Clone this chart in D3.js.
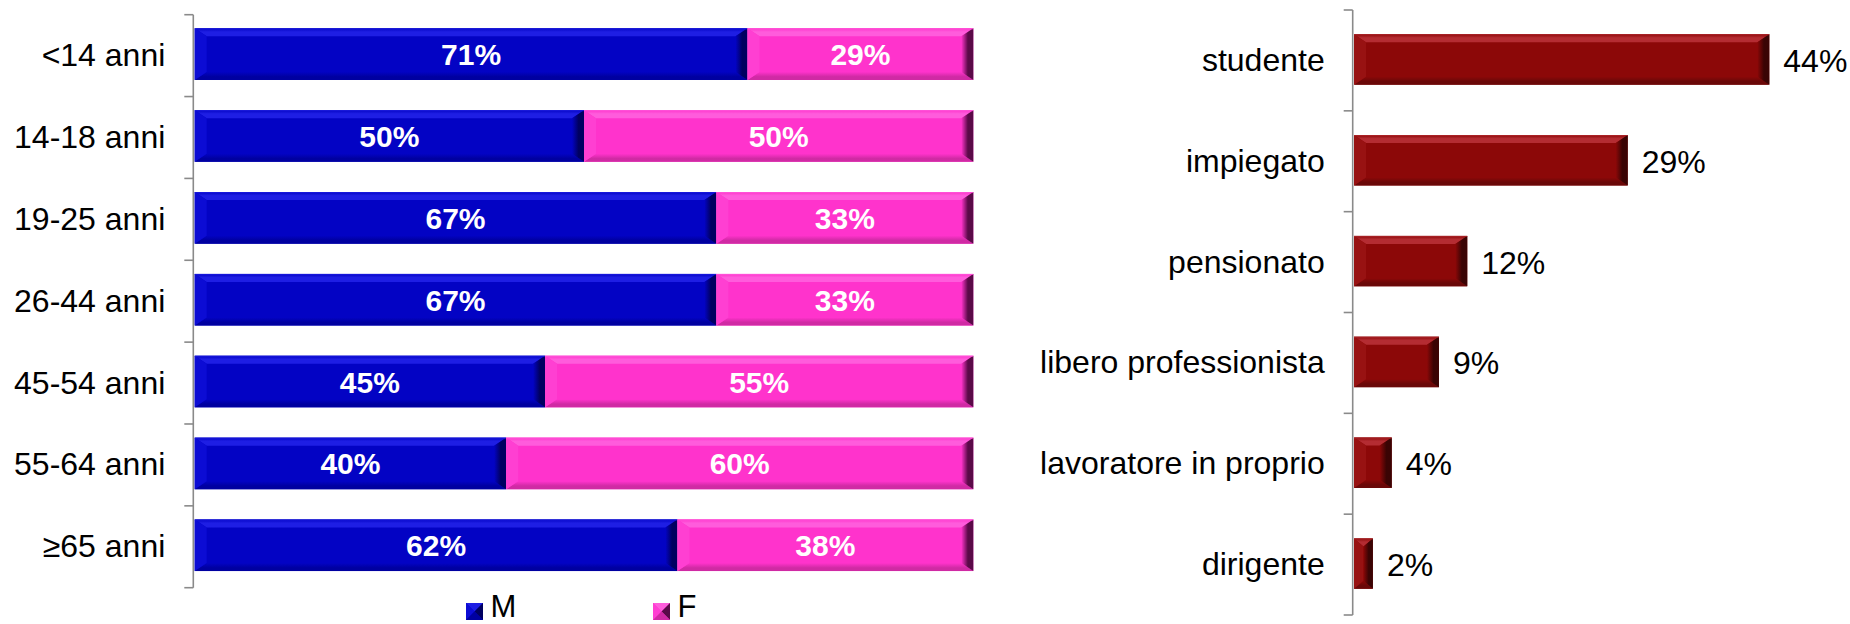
<!DOCTYPE html>
<html>
<head>
<meta charset="utf-8">
<script src="https://cdn.jsdelivr.net/npm/d3@7"></script>
<style>
  html, body { margin: 0; padding: 0; background: #ffffff; }
  svg { display: block; font-family: "Liberation Sans", Arial, sans-serif; }
</style>
</head>
<body>
<svg id="chart" width="1850" height="624"></svg>
<script>
// Age groups split by gender (share of M / F within each group)
const ageGroups = ["<14 anni", "14-18 anni", "19-25 anni", "26-44 anni", "45-54 anni", "55-64 anni", "\u226565 anni"];
const maleShare = [0.71, 0.50, 0.67, 0.67, 0.45, 0.40, 0.62];
const femaleShare = [0.29, 0.50, 0.33, 0.33, 0.55, 0.60, 0.38];
const genderKeys = ["M", "F"];

// Occupation breakdown
const occupations = ["studente", "impiegato", "pensionato", "libero professionista", "lavoratore in proprio", "dirigente"];
const occupationShare = [0.44, 0.29, 0.12, 0.09, 0.04, 0.02];

const fmtPct = d3.format(".0%");
const svg = d3.select("#chart");
const defs = svg.append("defs");

// Bevel palettes: face, top, bottom, left, right
const palettes = {
  M: { face: "#0303c4", top: "#1e1ee4", bottom: "#0000a0", left: "#0c0cd4", right: "#000060" },
  F: { face: "#ff33cc", top: "#ff5cdc", bottom: "#d02aa4", left: "#ff3fd2", right: "#5a0a48" },
  R: { face: "#8c0808", top: "#b42c32", bottom: "#6a0808", left: "#981212", right: "#3a0404" }
};

// Edge strips fade from the face colour to the rim colour
Object.entries(palettes).forEach(([k, p]) => {
  const gr = defs.append("linearGradient").attr("id", `rgt-${k}`)
    .attr("x1", 0).attr("y1", 0).attr("x2", 1).attr("y2", 0);
  gr.append("stop").attr("offset", "0%").attr("stop-color", p.face);
  gr.append("stop").attr("offset", "55%").attr("stop-color", p.right);
  gr.append("stop").attr("offset", "100%").attr("stop-color", p.right);
  const gt = defs.append("linearGradient").attr("id", `top-${k}`)
    .attr("x1", 0).attr("y1", 0).attr("x2", 0).attr("y2", 1);
  gt.append("stop").attr("offset", "0%").attr("stop-color", p.face);
  gt.append("stop").attr("offset", "45%").attr("stop-color", p.top);
  gt.append("stop").attr("offset", "100%").attr("stop-color", p.top);
  const gb = defs.append("linearGradient").attr("id", `bot-${k}`)
    .attr("x1", 0).attr("y1", 0).attr("x2", 0).attr("y2", 1);
  gb.append("stop").attr("offset", "0%").attr("stop-color", p.face);
  gb.append("stop").attr("offset", "60%").attr("stop-color", p.bottom);
  gb.append("stop").attr("offset", "100%").attr("stop-color", p.bottom);
});

// Draws a bevelled rectangle (face + four edge trapezoids)
function bevelRect(g, x, y, w, h, key, bx, by) {
  const pal = palettes[key];
  bx = Math.min(bx, w / 2);
  by = Math.min(by, h / 2);
  const grp = g.append("g");
  grp.append("rect").attr("x", x).attr("y", y).attr("width", w).attr("height", h).attr("fill", pal.face);
  const pts = a => a.map(p => p.join(",")).join(" ");
  grp.append("polygon").attr("fill", `url(#top-${key})`)
    .attr("points", pts([[x, y], [x + w, y], [x + w - bx, y + by], [x + bx, y + by]]));
  grp.append("polygon").attr("fill", `url(#bot-${key})`)
    .attr("points", pts([[x, y + h], [x + w, y + h], [x + w - bx, y + h - by], [x + bx, y + h - by]]));
  grp.append("polygon").attr("fill", pal.left)
    .attr("points", pts([[x, y], [x + bx, y + by], [x + bx, y + h - by], [x, y + h]]));
  grp.append("polygon").attr("fill", `url(#rgt-${key})`)
    .attr("points", pts([[x + w, y], [x + w - bx, y + by], [x + w - bx, y + h - by], [x + w, y + h]]));
  // thin light outline along the top edge
  grp.append("line").attr("x1", x).attr("x2", x + w).attr("y1", y + 0.5).attr("y2", y + 0.5)
    .attr("stroke", pal.top).attr("stroke-opacity", 0.7).attr("stroke-width", 1);
  return grp;
}

// Category axis with ticks at band boundaries and labels at band centres
function categoryAxis(g, yScale, axisX, labels) {
  const step = yScale.step();
  const start = yScale.range()[0];
  const end = yScale.range()[1];
  g.append("line").attr("x1", axisX).attr("x2", axisX).attr("y1", start).attr("y2", end)
    .attr("stroke", "#8a8a8a").attr("stroke-width", 1.6);
  const bounds = d3.range(labels.length + 1).map(i => start + i * step);
  g.selectAll(null).data(bounds).join("line")
    .attr("x1", axisX - 9).attr("x2", axisX).attr("y1", d => d).attr("y2", d => d)
    .attr("stroke", "#8a8a8a").attr("stroke-width", 1.6);
  const ax = g.append("g").attr("transform", `translate(${axisX},0)`)
    .call(d3.axisLeft(yScale).tickSize(0).tickPadding(28));
  ax.select(".domain").remove();
  ax.selectAll("text").attr("font-size", 32).attr("fill", "#000")
    .attr("font-family", "'Liberation Sans', Arial, sans-serif")
    .attr("dy", "0.33em");
}

// ---- Left chart: 100% stacked bars by age group ----
const left = svg.append("g");
const yL = d3.scaleBand().domain(ageGroups).range([14.7, 587.7]).paddingInner(0.37).paddingOuter(0.185);
const xL = d3.scaleLinear().domain([0, 1]).range([194.7, 973.3]);

const rowsL = ageGroups.map((g, i) => ({ group: g, M: maleShare[i], F: femaleShare[i] }));
const stack = d3.stack().keys(genderKeys).offset(d3.stackOffsetExpand)(rowsL);

stack.forEach(layer => {
  layer.forEach(seg => {
    const x0 = xL(seg[0]), x1 = xL(seg[1]);
    const y0 = yL(seg.data.group) - 1.5;
    const h = yL.bandwidth();
    bevelRect(left, x0, y0, x1 - x0, h, layer.key, 12, 8);
    left.append("text")
      .attr("x", (x0 + x1) / 2).attr("y", y0 + h / 2 + 11)
      .attr("text-anchor", "middle").attr("font-size", 30).attr("font-weight", "bold")
      .attr("fill", "#ffffff")
      .text(fmtPct(seg.data[layer.key]));
  });
});
categoryAxis(left, yL, 193.3, ageGroups);

// Legend
const legend = svg.append("g");
const legendX = { M: 466, F: 653 };
genderKeys.forEach(k => {
  const lx = legendX[k];
  const s = 17;
  const pal = palettes[k];
  const pts = a => a.map(p => p.join(",")).join(" ");
  const ly = 603, c = [lx + s / 2, ly + s / 2];
  legend.append("rect").attr("x", lx).attr("y", ly).attr("width", s).attr("height", s).attr("fill", pal.face);
  legend.append("polygon").attr("fill", pal.top).attr("points", pts([[lx, ly], [lx + s, ly], c]));
  legend.append("polygon").attr("fill", pal.left).attr("points", pts([[lx, ly], [lx, ly + s], c]));
  legend.append("polygon").attr("fill", pal.right).attr("points", pts([[lx + s, ly], [lx + s, ly + s], c]));
  legend.append("polygon").attr("fill", pal.bottom).attr("points", pts([[lx, ly + s], [lx + s, ly + s], c]));
  legend.append("text").attr("x", lx + 24.5).attr("y", 617).attr("font-size", 31).attr("fill", "#000").text(k);
});

// ---- Right chart: occupation ----
const right = svg.append("g");
const yR = d3.scaleBand().domain(occupations).range([10, 615]).paddingInner(0.5).paddingOuter(0.25);
const xR = d3.scaleLinear().domain([0, 0.44]).range([1354, 1769.3]);

occupations.forEach((o, i) => {
  const v = occupationShare[i];
  const y0 = yR(o) - 1;
  const h = yR.bandwidth();
  const w = xR(v) - xR(0);
  bevelRect(right, xR(0), y0, w, h, "R", 12, 8);
  right.append("text")
    .attr("x", xR(v) + 14).attr("y", y0 + h / 2 + 12.5)
    .attr("font-size", 32).attr("fill", "#000")
    .text(fmtPct(v));
});
categoryAxis(right, yR, 1352.7, occupations);
</script>
</body>
</html>
